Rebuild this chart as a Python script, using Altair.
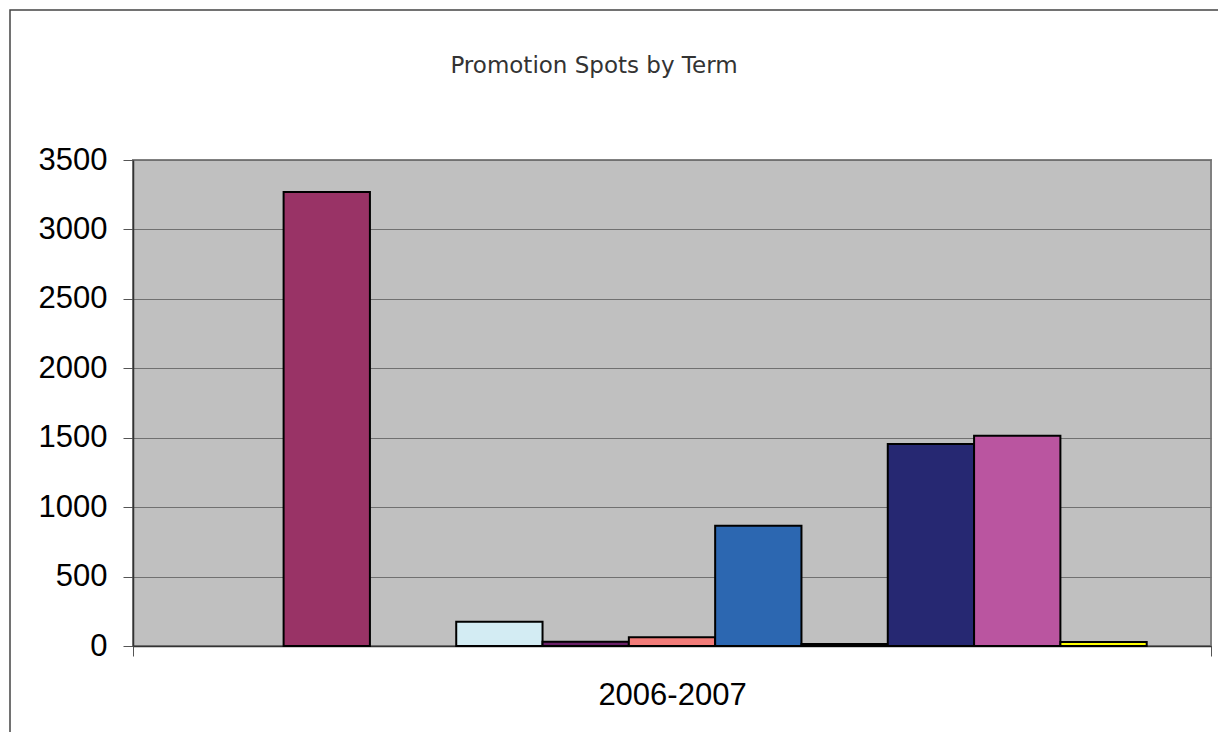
import altair as alt
import pandas as pd

# ---- data ----
chart_title = "Promotion Spots by Term"
term = "2006-2007"
series = ["S1", "S2", "S3", "S4", "S5", "S6", "S7", "S8", "S9", "S10", "S11"]
values = [None, 3270, None, 175, 31, 63, 866, 15, 1455, 1514, 28]
colors = ["#9999FF", "#993366", "#FFFFCC", "#D3ECF3", "#6A2068", "#F27C79",
          "#2C67B1", "#CCCCFF", "#262872", "#BA55A0", "#FFFF00"]
y_ticks = [0, 500, 1000, 1500, 2000, 2500, 3000, 3500]

rows = [{"term": term, "series": s, "value": v} for s, v in zip(series, values) if v is not None]
df = pd.DataFrame(rows)

W, H = 1078, 486
PAD_L, PAD_T = 133, 160

bars = alt.Chart(df).mark_bar(stroke="black", strokeWidth=2).encode(
    x=alt.X("term:N", title=None,
            scale=alt.Scale(paddingInner=0, paddingOuter=0),
            axis=alt.Axis(labelAngle=0, labelFontSize=31, labelFont="Liberation Sans",
                          labelColor="black", labelPadding=24, tickSize=10,
                          tickBand="extent", tickColor="#555555", domainColor="#333333",
                          domainWidth=1.5, grid=False)),
    xOffset=alt.XOffset("series:N", sort=series,
                        scale=alt.Scale(domain=series, paddingInner=0, paddingOuter=0.745)),
    y=alt.Y("value:Q", title=None,
            scale=alt.Scale(domain=[0, 3500], nice=False),
            axis=alt.Axis(values=y_ticks, format="d", labelFontSize=31,
                          labelFont="Liberation Sans",
                          labelColor="black", labelPadding=16, tickSize=10,
                          tickColor="#555555", domainColor="#333333", domainWidth=1.5,
                          gridColor="#707070", gridWidth=1.2)),
    color=alt.Color("series:N", sort=series,
                    scale=alt.Scale(domain=series, range=colors), legend=None),
)

frame = alt.Chart(pd.DataFrame({"a": [0]})).mark_rect(
    fill=None, stroke="#444444", strokeWidth=1.5
).encode(
    x=alt.value(10 - PAD_L), x2=alt.value(1240 - PAD_L),
    y=alt.value(10 - PAD_T), y2=alt.value(760 - PAD_T),
)

title_text = alt.Chart(pd.DataFrame({"t": [chart_title]})).mark_text(
    align="center", baseline="middle", font="DejaVu Sans", fontSize=23, color="#333333"
).encode(
    text="t:N", x=alt.value(594 - PAD_L), y=alt.value(66 - PAD_T),
)

chart = alt.layer(frame, bars, title_text).properties(
    width=W, height=H,
    padding={"left": PAD_L, "top": PAD_T, "right": 1218 - PAD_L - W, "bottom": 732 - PAD_T - H},
    autosize=alt.AutoSizeParams(type="none"),
    background="white",
).configure_view(
    fill="#C0C0C0", stroke="#808080", strokeWidth=2
)

chart.save("out.html", embed_options={"renderer": "svg", "actions": False})
